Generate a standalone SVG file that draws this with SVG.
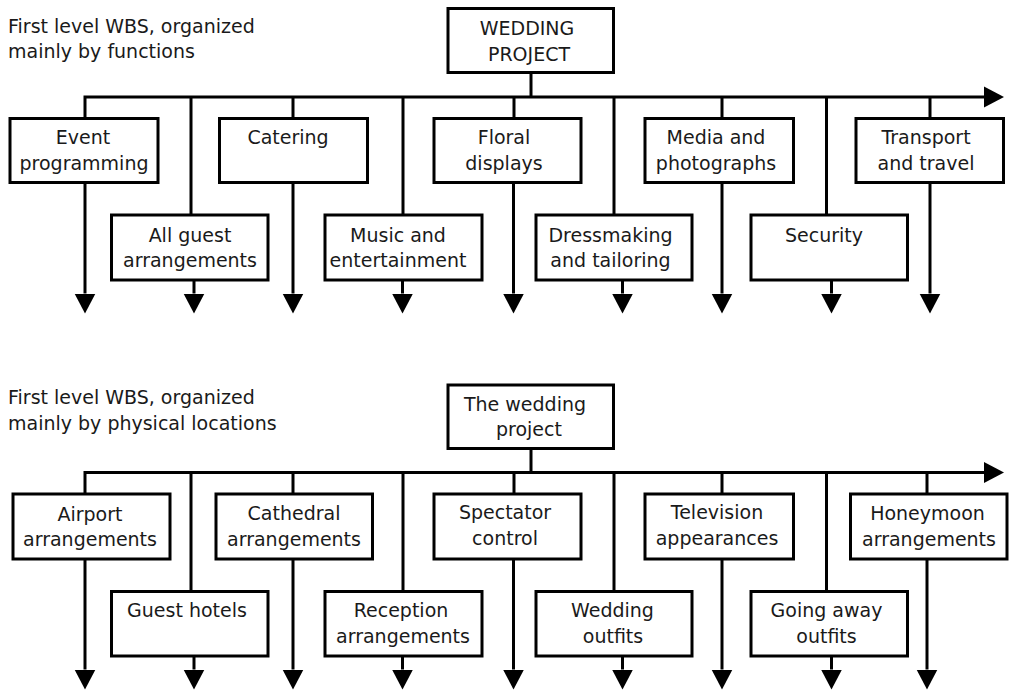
<svg xmlns="http://www.w3.org/2000/svg" width="1010" height="693" viewBox="0 0 1010 693">
<style>
.box{fill:#fff;stroke:#000;stroke-width:3}
.ln{fill:none;stroke:#000;stroke-width:3}
.arr{fill:none;stroke:#000;stroke-width:3;marker-end:url(#ah)}
text{font-family:"DejaVu Sans","Verdana",sans-serif;font-size:19px;fill:#1a1a1a}
.c{text-anchor:middle}
</style>
<defs>
<marker id="ah" markerUnits="userSpaceOnUse" markerWidth="20" markerHeight="22" refX="0" refY="10.5" orient="auto" viewBox="0 0 20 21">
<path d="M0,0 L20,10.5 L0,21 z" fill="#000"/>
</marker>
</defs>
<rect width="1010" height="693" fill="#fff"/>

<g id="title-top"><text x="8" y="33">First level WBS, organized</text><text x="8" y="58">mainly by functions</text></g>
<g id="title-bottom"><text x="8" y="403.5">First level WBS, organized</text><text x="8" y="429.5">mainly by physical locations</text></g>

<g id="connectors">
<!-- top -->
<path class="ln" d="M531,72.5V97"/>
<path class="arr" d="M85,118.5V97H984"/>
<path class="ln" d="M293,97V118.5M514,97V118.5M722,97V118.5M930,97V118.5"/>
<path class="ln" d="M191,97V215M403,97V215M614,97V215M826.5,97V215"/>
<path class="arr" d="M85,182.5V293.5"/>
<path class="arr" d="M293,182.5V293.5"/>
<path class="arr" d="M513.5,182.5V293.5"/>
<path class="arr" d="M722,182.5V293.5"/>
<path class="arr" d="M930,182.5V293.5"/>
<path class="arr" d="M194,280V293.5"/>
<path class="arr" d="M402.5,280V293.5"/>
<path class="arr" d="M622.5,280V293.5"/>
<path class="arr" d="M831.5,280V293.5"/>
<!-- bottom -->
<path class="ln" d="M531,448.5V472.5"/>
<path class="arr" d="M85,494V472.5H984"/>
<path class="ln" d="M293,472.5V494M514,472.5V494M722,472.5V494M927,472.5V494"/>
<path class="ln" d="M191,472.5V591.5M403,472.5V591.5M614,472.5V591.5M826.5,472.5V591.5"/>
<path class="arr" d="M85,559V669.5"/>
<path class="arr" d="M293,559V669.5"/>
<path class="arr" d="M513.5,559V669.5"/>
<path class="arr" d="M722,559V669.5"/>
<path class="arr" d="M927,559V669.5"/>
<path class="arr" d="M194,656V669.5"/>
<path class="arr" d="M402.5,656V669.5"/>
<path class="arr" d="M622.5,656V669.5"/>
<path class="arr" d="M831.5,656V669.5"/>
</g>

<!-- top nodes -->
<g id="wedding-project"><rect class="box" x="448" y="8.5" width="165.5" height="64"/><text class="c" x="527" y="35">WEDDING</text><text class="c" x="529" y="61">PROJECT</text></g>
<g id="event-programming"><rect class="box" x="10" y="118.5" width="148" height="64"/><text class="c" x="83" y="144">Event</text><text class="c" x="84" y="170">programming</text></g>
<g id="catering"><rect class="box" x="219.5" y="118.5" width="148" height="64"/><text class="c" x="288" y="144">Catering</text></g>
<g id="floral-displays"><rect class="box" x="434" y="118.5" width="147" height="64"/><text class="c" x="504" y="144">Floral</text><text class="c" x="504" y="170">displays</text></g>
<g id="media-photographs"><rect class="box" x="645" y="118.5" width="148.5" height="64"/><text class="c" x="716" y="144">Media and</text><text class="c" x="716" y="170">photographs</text></g>
<g id="transport-travel"><rect class="box" x="856" y="118.5" width="147.5" height="64"/><text class="c" x="926" y="144">Transport</text><text class="c" x="926" y="170">and travel</text></g>
<g id="all-guest"><rect class="box" x="111.5" y="215" width="156.5" height="65"/><text class="c" x="190" y="241.5">All guest</text><text class="c" x="190" y="267">arrangements</text></g>
<g id="music-entertainment"><rect class="box" x="325" y="215" width="157" height="65"/><text class="c" x="398" y="241.5">Music and</text><text class="c" x="398" y="267">entertainment</text></g>
<g id="dressmaking-tailoring"><rect class="box" x="536" y="215" width="156" height="65"/><text class="c" x="610.5" y="241.5">Dressmaking</text><text class="c" x="610.5" y="267">and tailoring</text></g>
<g id="security"><rect class="box" x="751" y="215" width="156.5" height="65"/><text class="c" x="824" y="242">Security</text></g>

<!-- bottom nodes -->
<g id="the-wedding-project"><rect class="box" x="448" y="385" width="165.5" height="63.5"/><text class="c" x="525" y="410.5">The wedding</text><text class="c" x="529" y="436">project</text></g>
<g id="airport"><rect class="box" x="13" y="494" width="157" height="65"/><text class="c" x="90" y="520.5">Airport</text><text class="c" x="90" y="546">arrangements</text></g>
<g id="cathedral"><rect class="box" x="216" y="494" width="156.5" height="65"/><text class="c" x="294" y="520">Cathedral</text><text class="c" x="294" y="545.5">arrangements</text></g>
<g id="spectator-control"><rect class="box" x="434" y="494" width="147" height="65"/><text class="c" x="505" y="519">Spectator</text><text class="c" x="505" y="545">control</text></g>
<g id="television"><rect class="box" x="645" y="494" width="148.5" height="65"/><text class="c" x="717" y="519">Television</text><text class="c" x="717" y="545">appearances</text></g>
<g id="honeymoon"><rect class="box" x="850.5" y="494" width="156.5" height="65"/><text class="c" x="927.5" y="520">Honeymoon</text><text class="c" x="929" y="546">arrangements</text></g>
<g id="guest-hotels"><rect class="box" x="111.5" y="591.5" width="156.5" height="64.5"/><text class="c" x="187" y="616.5">Guest hotels</text></g>
<g id="reception"><rect class="box" x="325" y="591.5" width="157" height="64.5"/><text class="c" x="401" y="617">Reception</text><text class="c" x="403" y="643">arrangements</text></g>
<g id="wedding-outfits"><rect class="box" x="536" y="591.5" width="156" height="64.5"/><text class="c" x="612.5" y="617">Wedding</text><text class="c" x="613" y="642.5">outfits</text></g>
<g id="going-away"><rect class="box" x="751" y="591.5" width="156.5" height="64.5"/><text class="c" x="826.5" y="617">Going away</text><text class="c" x="826.5" y="643">outfits</text></g>
</svg>
